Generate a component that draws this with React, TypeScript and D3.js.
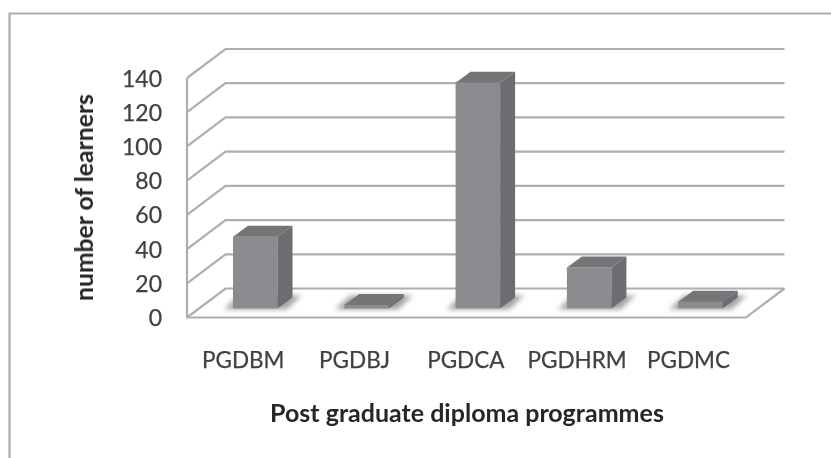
import React from "react";
import * as d3 from "d3";

const categories = ["PGDBM", "PGDBJ", "PGDCA", "PGDHRM", "PGDMC"];
const learners = [42, 2, 132, 24, 4];
const ticks = [0, 20, 40, 60, 80, 100, 120, 140];
const xTitle = "Post graduate diploma programmes";
const yTitle = "number of learners";

const FONT = "Lato, 'Open Sans', sans-serif";
const GRID = "#adaeb0";

export default function App() {
  const front = { l: 187, r: 746 };
  const wall = { dx: 38.5, dy: -29 };
  const y = d3.scaleLinear().domain([0, 140]).range([317.5, 78]);
  const x = d3.scaleBand<string>().domain(categories).range([199.6, 756.1]).paddingInner(0.6).paddingOuter(0.3);
  const baseY = 308.5;
  const barDx = 15;
  const barDy = -11;
  const unit = y(0) - y(1);

  return (
    <svg width={831} height={458} style={{ position: "absolute", left: 0, top: 0, background: "#fff" }}>
      <defs>
        <filter id="soft" x="-5%" y="-5%" width="110%" height="110%">
          <feGaussianBlur stdDeviation="0.55" />
        </filter>
        <filter id="shadow" x="-30%" y="-100%" width="160%" height="300%">
          <feGaussianBlur stdDeviation="2.6" />
        </filter>
        <filter id="textSoft">
          <feGaussianBlur stdDeviation="0.35" />
        </filter>
      </defs>

      <g filter="url(#soft)">
        <path d="M9.5,458V13.5H831" fill="none" stroke="#adaeb0" strokeWidth={2.2} />
        {ticks.map((t) => (
          <path
            key={t}
            d={`M${front.l},${y(t)}L${front.l + wall.dx},${y(t) + wall.dy}H${front.r + wall.dx}`}
            fill="none"
            stroke={GRID}
            strokeWidth={2.2}
          />
        ))}
        <path d={`M${front.l},${y(140)}V${y(0)}H${front.r}L${front.r + wall.dx},${y(0) + wall.dy}`} fill="none" stroke={GRID} strokeWidth={2.2} />
      </g>

      {categories.map((c, i) => {
        const x0 = x(c)!;
        const w = x.bandwidth();
        const h = learners[i] * unit;
        const top = baseY - h;
        return (
          <g key={c}>
            <path
              d={`M${x0 - 9},${baseY + 1}H${x0 + w + 9}L${x0 + w + barDx + 9},${baseY - 13}H${x0 + barDx - 9}Z`}
              fill="#a3a4a6"
              filter="url(#shadow)"
            />
            <g filter="url(#soft)">
              <rect x={x0} y={top} width={w} height={h} fill="#8b8c8f" />
              <path d={`M${x0},${top}L${x0 + barDx},${top + barDy}H${x0 + w + barDx}L${x0 + w},${top}Z`} fill="#747578" />
              <path d={`M${x0 + w},${top}L${x0 + w + barDx},${top + barDy}V${baseY + barDy}L${x0 + w},${baseY}Z`} fill="#6c6d70" />
            </g>
          </g>
        );
      })}

      <g filter="url(#textSoft)" fontFamily={FONT} fill="#404042" stroke="#404042" strokeWidth={0.25}>
        {ticks.map((t) => (
          <text key={t} x={162} y={y(t) + 8.5} fontSize={23} textAnchor="end">{t}</text>
        ))}
        {categories.map((c) => (
          <text key={c} x={x(c)! + x.bandwidth() / 2 - 12} y={368} fontSize={22.5} textAnchor="middle">{c}</text>
        ))}
        <text x={467} y={422} fontSize={25} fontWeight={700} textAnchor="middle" fill="#262628" stroke="none">{xTitle}</text>
        <text transform="translate(93,197.5) rotate(-90)" fontSize={24.7} fontWeight={700} textAnchor="middle" fill="#262628" stroke="none">{yTitle}</text>
      </g>
    </svg>
  );
}
